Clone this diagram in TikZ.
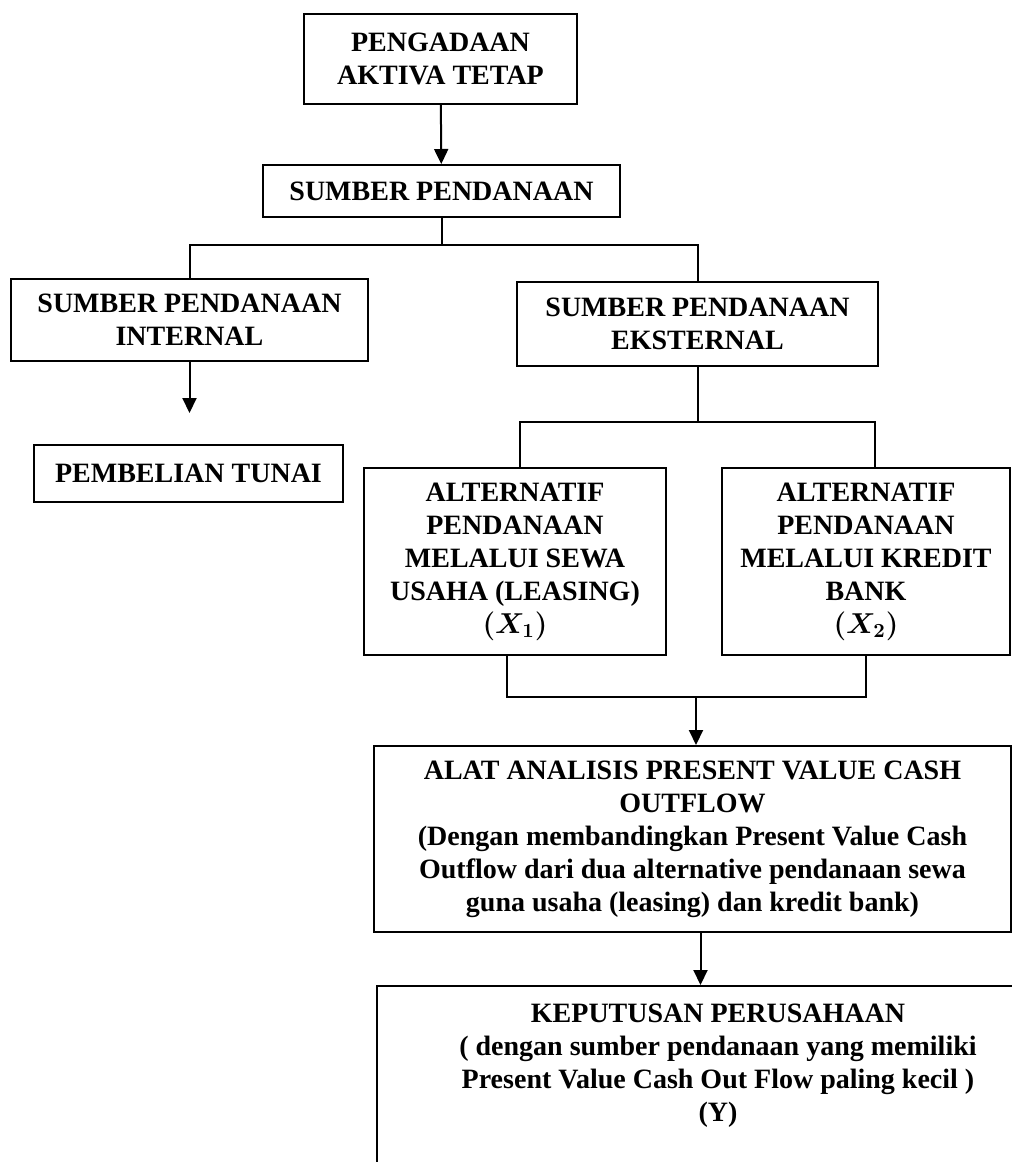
\documentclass[tikz,border=0pt]{standalone}
\usepackage{amsmath}
\usepackage{bm}
\usepackage{fontspec}
\setmainfont{Liberation Serif}
\usetikzlibrary{arrows.meta}
\tikzset{
    box/.style={draw, line width=1pt, align=center, inner sep=2pt, font=\bfseries\fontsize{14}{16.5}\selectfont},
    fc/.style={>={Triangle[width=7pt,length=7.5pt]}, line width=1pt, x=0.5pt, y=-0.5pt}
}

\begin{document}
\begin{tikzpicture}[fc]
    \useasboundingbox (0,0) rectangle (1012,1162);
    \clip (0,0) rectangle (1012,1162);

    \node[box, minimum width=136.5pt, minimum height=45pt] (pengadaan) at (440.5,59) {PENGADAAN\\AKTIVA TETAP};
    \node[box, minimum width=178.5pt, minimum height=26pt] (sumber) at (441.5,191) {SUMBER PENDANAAN};
    \node[box, minimum width=178.5pt, minimum height=41pt] (internal) at (189.5,320) {SUMBER PENDANAAN\\INTERNAL};
    \node[box, minimum width=180.5pt, minimum height=42pt] (eksternal) at (697.5,324) {SUMBER PENDANAAN\\EKSTERNAL};
    \node[box, minimum width=154.5pt, minimum height=28.5pt] (tunai) at (188.5,473.5) {PEMBELIAN TUNAI};
    \node[box, minimum width=151pt, minimum height=93.5pt] (sewa) at (515,561.5) {ALTERNATIF\\PENDANAAN\\MELALUI SEWA\\USAHA (LEASING)\\$\bm{(X_1)}$};
    \node[box, minimum width=144pt, minimum height=93.5pt] (kredit) at (866,561.5) {ALTERNATIF\\PENDANAAN\\MELALUI KREDIT\\BANK\\$\bm{(X_2)}$};
    \node[box, minimum width=318.5pt, minimum height=93pt] (alat) at (692.5,839) {ALAT ANALISIS PRESENT VALUE CASH\\OUTFLOW\\(Dengan membandingkan Present Value Cash\\Outflow dari dua alternative pendanaan sewa\\guna usaha (leasing) dan kredit bank)};
    \node[box, minimum width=341pt, inner ysep=9pt, text depth=70pt, anchor=north] (keputusan) at (718,985) {KEPUTUSAN PERUSAHAAN\\( dengan sumber pendanaan yang memiliki\\Present Value Cash Out Flow paling kecil )\\(Y)};

    \coordinate (cab1) at (441.5,245);
    \coordinate (cab2) at (697.5,422);
    \coordinate (cab3) at (696,697);

    \draw[->] (pengadaan) -- (sumber);
    \draw (sumber) -- (cab1);
    \draw (internal.north) |- (cab1) -| (eksternal.north);
    \draw[->, shorten >=15.5pt] (internal.south) -- (internal.south |- tunai.north);
    \draw (eksternal) -- (cab2);
    \draw ([xshift=2.5pt]sewa.north) |- (cab2) -| ([xshift=4.5pt]kredit.north);
    \draw ([xshift=-4pt]sewa.south) |- (cab3) -| (kredit.south);
    \draw[->] (cab3) -- (cab3 |- alat.north);
    \draw[->] ([xshift=4pt]alat.south) -- ([xshift=4pt]alat.south |- keputusan.north);
\end{tikzpicture}
\end{document}
